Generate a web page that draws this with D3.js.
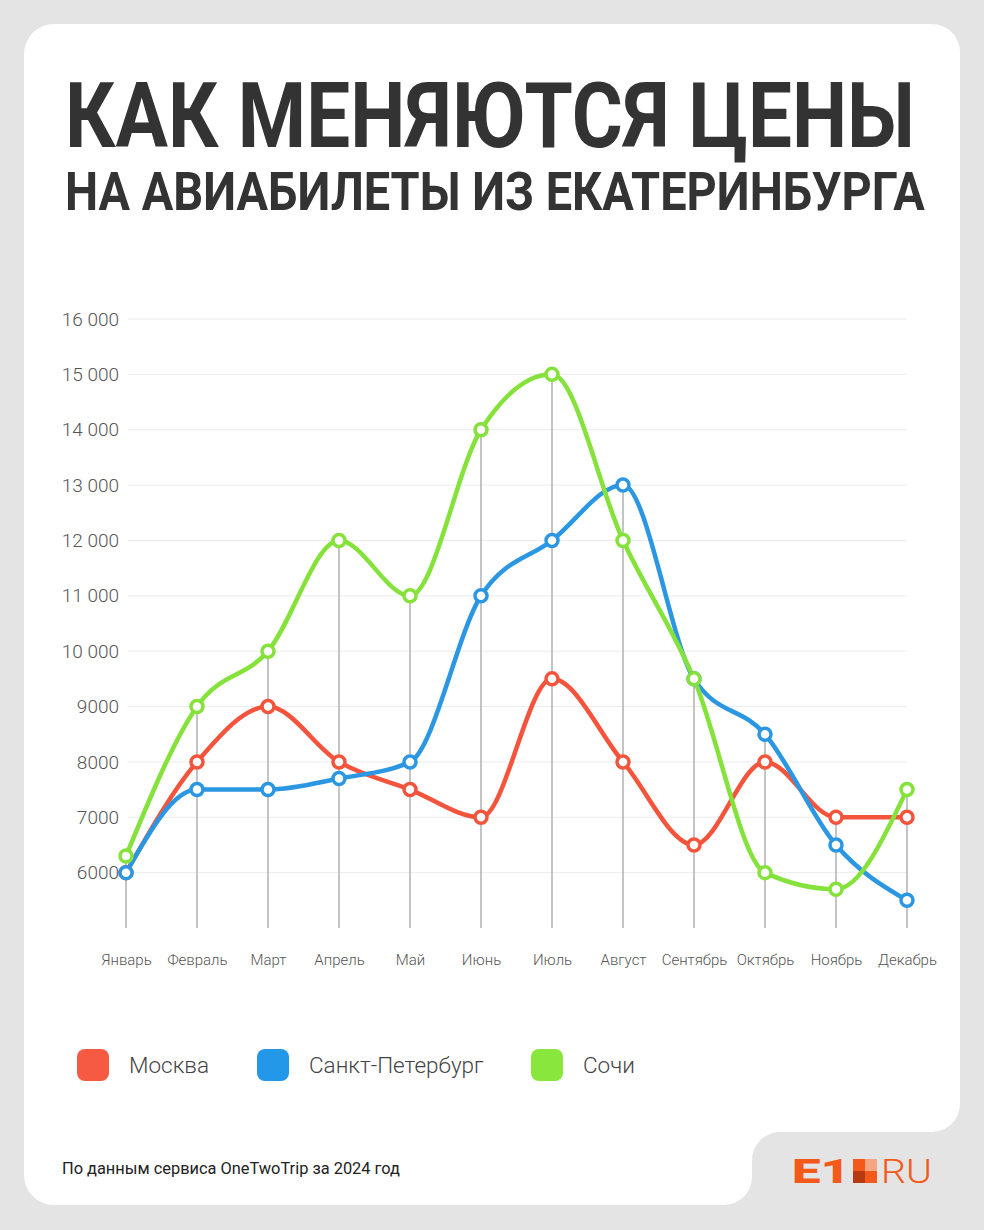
<!DOCTYPE html>
<html>
<head>
<meta charset="utf-8">
<script src="https://cdn.jsdelivr.net/npm/d3@7"></script>
<style>
  html, body { margin: 0; padding: 0; background: #e4e4e4; }
  svg { display: block; }
</style>
</head>
<body>
<div id="chart"></div>
<script>
// chart data
var months = ["Январь", "Февраль", "Март", "Апрель", "Май", "Июнь", "Июль", "Август", "Сентябрь", "Октябрь", "Ноябрь", "Декабрь"];
var moscow = [6000, 8000, 9000, 8000, 7500, 7000, 9500, 8000, 6500, 8000, 7000, 7000];
var spb = [6000, 7500, 7500, 7700, 8000, 11000, 12000, 13000, 9500, 8500, 6500, 5500];
var sochi = [6300, 9000, 10000, 12000, 11000, 14000, 15000, 12000, 9500, 6000, 5700, 7500];
var seriesNames = ["Москва", "Санкт-Петербург", "Сочи"];
var yTicks = [6000, 7000, 8000, 9000, 10000, 11000, 12000, 13000, 14000, 15000, 16000];

var colors = ["#f4533c", "#2b97e3", "#84e23a"];
var legendColors = ["#f75a42", "#2398e9", "#88e63c"];

var W = 984, H = 1230;
var svg = d3.select("#chart").append("svg")
	.attr("width", W)
	.attr("height", H);

// background and card with the notch for the logo
svg.append("rect").attr("width", W).attr("height", H).attr("fill", "#e4e4e4");
svg.append("path")
	.attr("d", "M54,24 H932 A28,28 0 0 1 960,52 V1104 A28,28 0 0 1 932,1132 H780 A28,28 0 0 0 752,1160 V1177 A28,28 0 0 1 724,1205 H54 A30,30 0 0 1 24,1175 V54 A30,30 0 0 1 54,24 Z")
	.attr("fill", "#ffffff");

// squeeze a text horizontally to a given width (condensed look)
function fitText(sel, x0, y0, width) {
	var len = sel.node().getComputedTextLength();
	sel.attr("transform", "translate(" + x0 + "," + y0 + ") scale(" + (width / len) + ",1)");
}

// title
var t1 = svg.append("text")
	.style("font-family", "Roboto, sans-serif").style("font-weight", 700)
	.style("font-size", "90px").attr("fill", "#333333")
	.text("КАК МЕНЯЮТСЯ ЦЕНЫ");
fitText(t1, 65, 147, 850);
var t2 = svg.append("text")
	.style("font-family", "Roboto, sans-serif").style("font-weight", 700)
	.style("font-size", "53px").attr("fill", "#333333")
	.text("НА АВИАБИЛЕТЫ ИЗ ЕКАТЕРИНБУРГА");
fitText(t2, 65, 210, 860);

// scales
var x = d3.scalePoint().domain(months).range([126, 907]);
var y = d3.scaleLinear().domain([5000, 16000]).range([928, 319]);

// horizontal grid
svg.append("g").selectAll("line")
	.data(yTicks)
	.join("line")
	.attr("x1", 128).attr("x2", 907)
	.attr("y1", function (d) { return y(d); })
	.attr("y2", function (d) { return y(d); })
	.attr("stroke", "#ececec").attr("stroke-width", 1);

// y axis labels
var fmt = function (d) { return d >= 10000 ? d3.format(",")(d).replace(",", " ") : String(d); };
var yAxis = d3.axisLeft(y).tickValues(yTicks).tickSize(0).tickPadding(0).tickFormat(fmt);
var yg = svg.append("g").attr("transform", "translate(119,0)").call(yAxis);
yg.select(".domain").remove();
yg.selectAll("text")
	.style("font-family", "Roboto, sans-serif").style("font-weight", 300)
	.style("font-size", "19px").attr("fill", "#555555");

// drop lines from the monthly max to the baseline
var maxVals = months.map(function (m, i) { return d3.max([moscow[i], spb[i], sochi[i]]); });
svg.append("g").selectAll("line")
	.data(months)
	.join("line")
	.attr("x1", function (d) { return x(d); })
	.attr("x2", function (d) { return x(d); })
	.attr("y1", function (d, i) { return y(maxVals[i]); })
	.attr("y2", 928)
	.attr("stroke", "#b0b0b0").attr("stroke-width", 1.5);

// x axis labels
var xAxis = d3.axisBottom(x).tickSize(0).tickPadding(0);
var xg = svg.append("g").attr("transform", "translate(0,954)").call(xAxis);
xg.select(".domain").remove();
xg.selectAll("text")
	.style("font-family", "Roboto, sans-serif").style("font-weight", 300)
	.style("font-size", "15px").attr("fill", "#555555");

// lines
var line = d3.line()
	.x(function (d, i) { return x(months[i]); })
	.y(function (d) { return y(d); })
	.curve(d3.curveMonotoneX);

var allSeries = [moscow, spb, sochi];
allSeries.forEach(function (s, k) {
	svg.append("path")
		.datum(s)
		.attr("d", line)
		.attr("fill", "none")
		.attr("stroke", colors[k])
		.attr("stroke-width", 4.5)
		.attr("stroke-linecap", "round");
});
allSeries.forEach(function (s, k) {
	svg.append("g").selectAll("circle")
		.data(s)
		.join("circle")
		.attr("cx", function (d, i) { return x(months[i]); })
		.attr("cy", function (d) { return y(d); })
		.attr("r", 6)
		.attr("fill", "#ffffff")
		.attr("stroke", colors[k])
		.attr("stroke-width", 3.5);
});

// legend
var legX = [77, 257, 531];
var leg = svg.append("g").selectAll("g")
	.data(seriesNames)
	.join("g")
	.attr("transform", function (d, i) { return "translate(" + legX[i] + ",1049)"; });
leg.append("rect")
	.attr("width", 32).attr("height", 32).attr("rx", 8)
	.attr("fill", function (d, i) { return legendColors[i]; });
leg.append("text")
	.attr("x", 52).attr("y", 24)
	.style("font-family", "Roboto, sans-serif").style("font-weight", 300)
	.style("font-size", "22.5px").attr("fill", "#444444")
	.text(function (d) { return d; });

// footer
var foot = svg.append("text")
	.style("font-family", "Roboto, sans-serif").style("font-weight", 400)
	.style("font-size", "16px").attr("fill", "#222222")
	.text("По данным сервиса OneTwoTrip за 2024 год");
fitText(foot, 62, 1174, 338);

// logo
var logo = svg.append("g");
var e1 = logo.append("text")
	.style("font-family", "Roboto, sans-serif").style("font-weight", 900)
	.style("font-size", "33px").attr("fill", "#f2591a")
	.text("E1");
fitText(e1, 792, 1183, 58);
var sq = [[0, 0, "#f2591a"], [12, 0, "#f5a582"], [0, 12, "#b83a12"], [12, 12, "#f2591a"]];
logo.selectAll("rect")
	.data(sq)
	.join("rect")
	.attr("x", function (d) { return 853 + d[0]; })
	.attr("y", function (d) { return 1159 + d[1]; })
	.attr("width", 12).attr("height", 12)
	.attr("fill", function (d) { return d[2]; });
var ru = logo.append("text")
	.style("font-family", "Roboto, sans-serif").style("font-weight", 300)
	.style("font-size", "34px").attr("fill", "#f2591a")
	.text("RU");
fitText(ru, 881, 1183, 51);
</script>
</body>
</html>
